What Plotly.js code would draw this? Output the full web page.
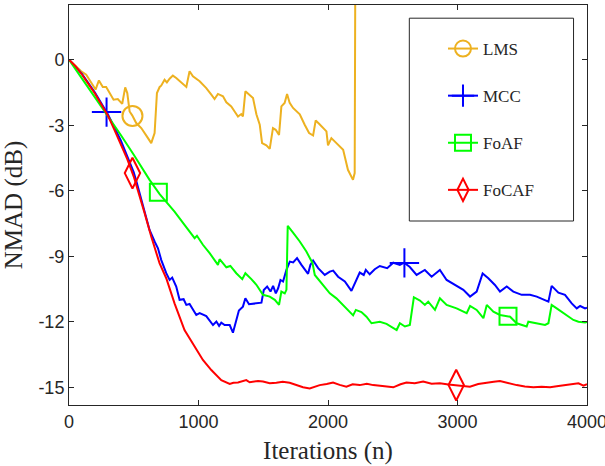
<!DOCTYPE html>
<html>
<head>
<meta charset="utf-8">
<script src="https://cdn.plot.ly/plotly-3.0.1.min.js"></script>
<style>
#chart{position:absolute;left:0;top:0;width:605px;height:466px;}
#note{position:absolute;left:0;top:470px;font:10px "Liberation Serif";}
</style>
</head>
<body>
<div id="chart"></div>
<div id="note"></div>
<script>
// ---- data (iteration, NMAD dB) ----
const seriesNames = ["LMS", "MCC", "FoAF", "FoCAF"];
const LMS = [[0,0],[94,-0.53],[133,-0.69],[172,-1.07],[205,-1.37],[231,-0.95],[261,-1.25],[287,-1.25],[313,-1.53],[344,-1.83],[377,-1.80],[411,-2.02],[434,-1.27],[450,-1.53],[468,-2.37],[488,-2.55],[519,-2.90],[558,-3.13],[601,-3.51],[635,-3.82],[661,-3.36],[679,-1.53],[700,-1.25],[712,-1.19],[738,-0.92],[756,-1.04],[777,-0.87],[802,-0.73],[828,-0.84],[859,-0.99],[906,-1.25],[931,-0.53],[957,-0.76],[1009,-0.99],[1060,-1.30],[1099,-1.60],[1124,-1.80],[1150,-1.57],[1189,-1.68],[1215,-1.95],[1253,-2.14],[1279,-2.37],[1305,-2.60],[1330,-2.49],[1343,-2.60],[1362,-1.45],[1395,-1.60],[1421,-1.76],[1447,-2.50],[1473,-2.98],[1491,-3.82],[1524,-3.92],[1550,-4.08],[1575,-3.13],[1596,-3.21],[1622,-3.44],[1640,-2.14],[1665,-1.98],[1684,-1.57],[1704,-1.98],[1730,-2.21],[1756,-2.34],[1782,-2.50],[1820,-2.98],[1854,-3.36],[1885,-3.47],[1905,-2.78],[1931,-2.93],[1962,-3.13],[1988,-3.28],[2000,-3.92],[2026,-3.59],[2065,-3.82],[2117,-4.12],[2154,-5.04],[2173,-5.27],[2193,-5.50],[2206,-5.19],[2212,6]];
const MCC = [[0,0],[100,-0.65],[200,-1.5],[300,-2.5],[400,-3.7],[500,-5.15],[524,-5.65],[571,-6.72],[622,-7.79],[661,-8.32],[687,-8.63],[712,-9.16],[751,-9.77],[777,-10.08],[797,-9.97],[828,-10.38],[854,-10.99],[885,-10.96],[906,-11.22],[931,-11.18],[983,-11.68],[1009,-11.60],[1060,-11.73],[1112,-12.14],[1138,-11.98],[1159,-12.18],[1176,-12.03],[1202,-12.14],[1241,-12.14],[1266,-12.49],[1292,-11.91],[1312,-11.48],[1343,-11.30],[1362,-10.92],[1390,-11.19],[1434,-11.15],[1486,-11.12],[1504,-10.54],[1530,-10.38],[1556,-10.61],[1576,-10.35],[1597,-10.69],[1615,-10.46],[1633,-10.08],[1653,-10.15],[1679,-9.62],[1705,-9.24],[1731,-9.28],[1761,-9.08],[1795,-9.39],[1846,-9.80],[1864,-9.39],[1885,-9.19],[1924,-9.54],[1975,-9.85],[2014,-9.70],[2040,-9.65],[2078,-9.93],[2130,-10.15],[2181,-10.58],[2214,-10.15],[2245,-9.74],[2276,-9.85],[2292,-9.62],[2322,-9.82],[2361,-9.59],[2400,-9.44],[2457,-9.54],[2504,-9.29],[2555,-9.39],[2588,-9.29],[2632,-9.49],[2684,-9.85],[2748,-9.62],[2800,-9.93],[2864,-9.62],[2916,-10.08],[2980,-10.31],[3045,-10.53],[3097,-10.84],[3148,-10.61],[3194,-9.78],[3238,-10.00],[3289,-10.31],[3328,-10.61],[3380,-10.38],[3431,-10.61],[3496,-10.76],[3560,-10.76],[3612,-10.84],[3663,-10.99],[3702,-11.07],[3727,-10.35],[3779,-10.66],[3830,-10.76],[3882,-11.15],[3921,-11.38],[3947,-11.27],[3985,-11.38],[4000,-11.35]];
const FoAF = [[0,0],[100,-0.85],[200,-1.7],[300,-2.55],[400,-3.45],[500,-4.35],[622,-5.5],[700,-6.15],[751,-6.49],[815,-6.95],[892,-7.56],[970,-8.17],[988,-8.06],[1034,-8.47],[1086,-8.85],[1150,-9.39],[1163,-9.13],[1215,-9.50],[1246,-9.44],[1292,-9.77],[1338,-10.04],[1362,-9.77],[1408,-10.04],[1447,-10.30],[1498,-10.76],[1550,-10.84],[1589,-10.99],[1622,-11.22],[1640,-10.61],[1666,-10.69],[1679,-10.53],[1689,-7.60],[1730,-7.91],[1782,-8.32],[1833,-8.78],[1872,-9.16],[1880,-9.30],[1898,-9.85],[1949,-10.23],[2014,-10.69],[2065,-10.92],[2143,-11.38],[2194,-11.70],[2215,-11.45],[2258,-11.55],[2297,-11.76],[2336,-12.06],[2400,-11.99],[2452,-12.09],[2530,-12.37],[2555,-12.06],[2594,-12.21],[2632,-12.14],[2663,-10.87],[2710,-11.02],[2748,-11.22],[2774,-11.07],[2826,-11.45],[2864,-10.92],[2916,-11.22],[2993,-11.38],[3071,-11.60],[3097,-11.27],[3148,-11.45],[3200,-11.83],[3226,-11.22],[3277,-11.53],[3328,-11.68],[3406,-11.76],[3457,-12.06],[3534,-12.21],[3547,-11.99],[3611,-12.06],[3676,-12.14],[3702,-12.06],[3727,-11.22],[3766,-11.38],[3844,-11.68],[3895,-11.91],[3934,-11.99],[3985,-12.03],[4000,-12.0]];
const FoCAF = [[0,0],[50,-0.3],[100,-0.68],[150,-1.1],[200,-1.55],[250,-2.05],[300,-2.55],[350,-3.2],[400,-3.85],[450,-4.55],[500,-5.35],[524,-5.8],[584,-7.02],[635,-8.09],[699,-9.31],[751,-10.0],[815,-11.15],[892,-12.37],[970,-13.13],[1034,-13.74],[1099,-14.20],[1176,-14.66],[1241,-14.84],[1270,-14.78],[1305,-14.77],[1340,-14.72],[1369,-14.66],[1395,-14.76],[1421,-14.73],[1460,-14.70],[1498,-14.73],[1550,-14.80],[1601,-14.78],[1650,-14.74],[1704,-14.78],[1750,-14.86],[1807,-14.99],[1859,-15.04],[1900,-14.95],[1936,-14.89],[1990,-14.84],[2039,-14.77],[2090,-14.88],[2142,-14.96],[2190,-14.85],[2245,-14.89],[2300,-14.83],[2349,-14.89],[2420,-14.93],[2504,-14.99],[2560,-14.85],[2606,-14.77],[2670,-14.80],[2735,-14.73],[2800,-14.83],[2864,-14.81],[2930,-14.86],[2993,-14.89],[3040,-14.93],[3096,-14.96],[3160,-14.84],[3225,-14.77],[3280,-14.74],[3328,-14.70],[3390,-14.80],[3457,-14.89],[3520,-14.95],[3586,-14.99],[3650,-14.96],[3715,-14.99],[3780,-14.93],[3844,-14.89],[3900,-14.86],[3934,-14.81],[3973,-14.92],[4000,-14.85]];
const markerIter = {LMS: [490], MCC: [290, 2590], FoAF: [690, 3390], FoCAF: [490, 2990]};
const xTicks = [0, 1000, 2000, 3000, 4000];
const xTickText = ["0", "1000", "2000", "3000", "4000"];
const yTicks = [0, -3, -6, -9, -12, -15];
const yTickText = ["0", "-3", "-6", "-9", "-12", "-15"];

const colors = {LMS: "#EDB120", MCC: "#0000FF", FoAF: "#00FF00", FoCAF: "#FF0000"};
const symbols = {LMS: "circle-open", MCC: "cross-thin-open", FoAF: "square-open", FoCAF: "diamond-tall-open"};
const msize = {LMS: 20, MCC: 21, FoAF: 17, FoCAF: 22};
const dataMap = {LMS, MCC, FoAF, FoCAF};
const SERIF = "Liberation Serif";
const SANS = "Liberation Sans";

function yAt(arr, x) {
  for (let i = 1; i < arr.length; i++) {
    if (arr[i][0] >= x) {
      const [x0, y0] = arr[i-1], [x1, y1] = arr[i];
      return y0 + (y1 - y0) * (x - x0) / (x1 - x0);
    }
  }
  return arr[arr.length-1][1];
}

const traces = [];
seriesNames.forEach(name => {
  const arr = dataMap[name];
  traces.push({type: "scatter", mode: "lines", x: arr.map(p => p[0]), y: arr.map(p => p[1]),
    line: {color: colors[name], width: 2}, showlegend: false, legendgroup: name});
  traces.push({type: "scatter", mode: "markers", x: markerIter[name], y: markerIter[name].map(v => yAt(arr, v)),
    marker: {symbol: symbols[name], size: msize[name], color: colors[name], line: {color: colors[name], width: 2}},
    showlegend: false, legendgroup: name});
});
seriesNames.forEach(name => {
  traces.push({type: "scatter", mode: "lines+markers", x: [null], y: [null], name: name, legendgroup: name,
    line: {color: colors[name], width: 2},
    marker: {symbol: symbols[name], size: 16, color: colors[name], line: {color: colors[name], width: 2}}});
});

const axisCommon = {
  showgrid: false, zeroline: false, showline: true, linecolor: "#262626", linewidth: 1,
  mirror: "ticks", ticks: "inside", ticklen: 5, tickcolor: "#262626", tickwidth: 1,
  tickfont: {family: SANS, size: 18},
  tickmode: "array", automargin: false, ticklabeloverflow: "allow"
};

const layout = {
  width: 605, height: 466,
  margin: {l: 69, r: 18, t: 5, b: 61},
  font: {family: SERIF, color: "#262626"},
  paper_bgcolor: "#ffffff", plot_bgcolor: "#ffffff",
  showlegend: true,
  xaxis: Object.assign({}, axisCommon, {range: [0, 4000], tickvals: xTicks, ticktext: xTickText,
    title: {text: "Iterations (n)", font: {family: SERIF, size: 25}, standoff: 10}}),
  yaxis: Object.assign({}, axisCommon, {range: [-15.8, 2.5], tickvals: yTicks, ticktext: yTickText,
    title: {text: "NMAD (dB)", font: {family: SERIF, size: 25}, standoff: 10}}),
  legend: {x: 0.722, y: 0.935, xanchor: "left", yanchor: "top", bgcolor: "rgba(0,0,0,0)", borderwidth: 0,
    tracegroupgap: 22, font: {family: SERIF, size: 17}},
  shapes: [{type: "rect", xref: "paper", yref: "paper", x0: 0.657, x1: 0.974, y0: 0.46, y1: 0.967,
    line: {color: "#262626", width: 1}, fillcolor: "#ffffff", layer: "above"}]
};

Plotly.newPlot("chart", traces, layout, {staticPlot: true}).then(() => {
  document.getElementById("note").textContent = " ";
});
</script>
</body>
</html>
